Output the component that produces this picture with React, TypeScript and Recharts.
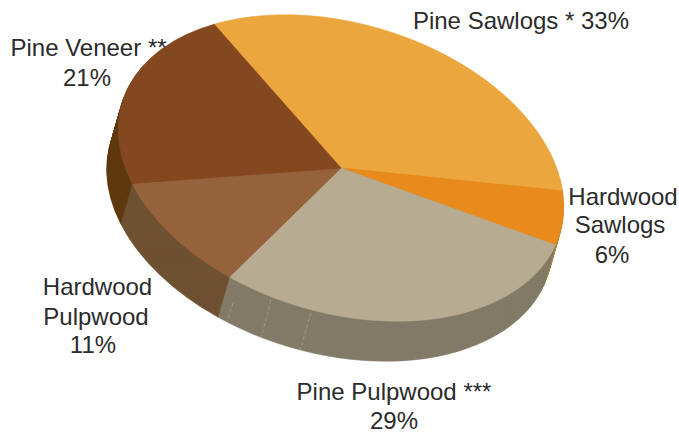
import React from 'react'
import { PieChart, Pie, Cell, Sector } from 'recharts'

const categories = ['Pine Sawlogs', 'Hardwood Sawlogs', 'Pine Pulpwood', 'Hardwood Pulpwood', 'Pine Veneer']
const shares = [33, 6, 29, 11, 21]
const topColors = ['#eca63e', '#e88a1c', '#b7ab92', '#96623c', '#844821']
const sideColors = ['#b07a2c', '#a8863c', '#837b68', '#6f5233', '#5f390f']

const labelLines = [
  'Pine Sawlogs * 33%',
  'Hardwood',
  'Sawlogs',
  '6%',
  'Pine Pulpwood ***',
  '29%',
  'Hardwood',
  'Pulpwood',
  '11%',
  'Pine Veneer **',
  '21%',
]
const labelX = [521, 623, 620, 612, 394, 394, 97.5, 96, 93, 88.5, 87]
const labelY = [29, 205, 233, 263, 400, 429, 295, 325, 353, 56, 86]

const data = categories.map((name, i) => ({ name, value: shares[i] }))

const CX = 341
const CY = 168
const RADIUS = 228.5
const SQUASH = 145 / 229
const TILT = 16.6
const DEPTH = 40
const SHIFT_X = -11.5

// every layer is the same pie, moved down and squashed into the tilted ellipse
const tiltedSector = (offset: number) => (props: any) => {
  const x = (SHIFT_X * offset) / DEPTH
  const t = `translate(${CX + x} ${CY + offset}) rotate(${TILT}) scale(1 ${SQUASH}) translate(${-CX} ${-CY})`
  return (
    <g>
      <g transform={t}>
        <Sector
          cx={CX}
          cy={CY}
          innerRadius={0}
          outerRadius={RADIUS}
          startAngle={props.startAngle}
          endAngle={props.endAngle}
          fill={props.fill}
          stroke={props.fill}
          strokeWidth={0.6}
        />
      </g>
      {/* seams on the rim of the pulpwood slice */}
      {offset === 0 && props.name === 'Pine Pulpwood' && (
        <g stroke="#a9a392" strokeWidth={1} strokeDasharray="4 2" opacity={0.7}>
          <line x1={233} y1={303} x2={227} y2={322} />
          <line x1={271} y1={300} x2={261} y2={338} />
          <line x1={311} y1={313} x2={300} y2={350} />
        </g>
      )}
    </g>
  )
}

const layers = Array.from({ length: DEPTH }, (_, i) => DEPTH - i)

const App = () => {
  return (
    <div style={{ position: 'absolute', left: 0, top: 0 }}>
      <PieChart width={679} height={437} margin={{ top: 0, right: 0, bottom: 0, left: 0 }}>
        {layers.map((offset) => (
          <Pie
            key={offset}
            data={data}
            dataKey="value"
            nameKey="name"
            cx={CX}
            cy={CY}
            outerRadius={RADIUS}
            startAngle={135.4}
            endAngle={-224.6}
            stroke="none"
            isAnimationActive={false}
            shape={tiltedSector(offset)}
          >
            {data.map((d, i) => (
              <Cell key={d.name} fill={sideColors[i]} />
            ))}
          </Pie>
        ))}
        <Pie
          data={data}
          dataKey="value"
          nameKey="name"
          cx={CX}
          cy={CY}
          outerRadius={RADIUS}
          startAngle={135.4}
          endAngle={-224.6}
          stroke="none"
          isAnimationActive={false}
          shape={tiltedSector(0)}
        >
          {data.map((d, i) => (
            <Cell key={d.name} fill={topColors[i]} />
          ))}
        </Pie>
        <g fontFamily="'Liberation Sans', Arial, sans-serif" fontSize={24} fill="#2b2b2b" textAnchor="middle">
          {labelLines.map((line, i) => (
            <text key={i} x={labelX[i]} y={labelY[i]}>
              {line}
            </text>
          ))}
        </g>
      </PieChart>
    </div>
  )
}

export default App
